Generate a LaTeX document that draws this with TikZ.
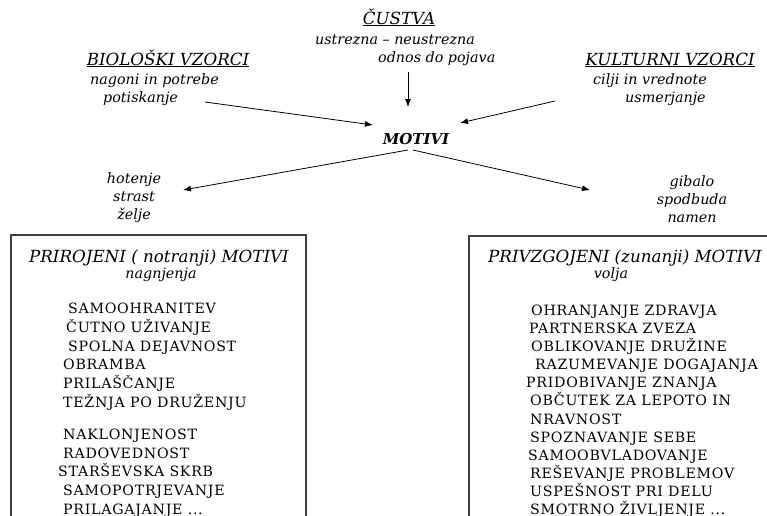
\documentclass[tikz,border=0pt]{standalone}
\usepackage{fontspec}
\setmainfont{DejaVu Serif}
\usetikzlibrary{arrows.meta}

\begin{document}
\begin{tikzpicture}[x=1pt,y=-1pt,
  head/.style={font=\fontsize{16.7}{18}\selectfont\itshape, inner sep=0pt, anchor=base},
  sub/.style={font=\fontsize{14.3}{18}\selectfont\itshape, inner sep=0pt},
  item/.style={font=\fontsize{14.2}{18.8}\selectfont\addfontfeature{LetterSpace=5}, inner sep=0pt, anchor=base west},
  arr/.style={-{Latex[length=8pt,width=6pt]}, line width=0.8pt},
  panel/.style={draw=black!75, line width=1.3pt}]

\useasboundingbox (0,0) rectangle (767,515);

% sources feeding the motives
\node[head] (cust) at (399,24) {\underline{ČUSTVA}};
\node[sub, anchor=base] (ustr) at (395,44) {ustrezna – neustrezna};
\node[sub, anchor=base west] (odnos) at (378,62) {odnos do pojava};

\node[head] (bio) at (168,65) {\underline{BIOLOŠKI VZORCI}};
\node[sub, anchor=base west] (nagoni) at (90,84) {nagoni in potrebe};
\node[sub, anchor=base west] (potisk) at (103,102) {potiskanje};

\node[head] (kult) at (670,65) {\underline{KULTURNI VZORCI}};
\node[sub, anchor=base west] (cilji) at (593,84) {cilji in vrednote};
\node[sub, anchor=base west] (usmer) at (625,102) {usmerjanje};

\node[head, font=\fontsize{15}{18}\selectfont\bfseries\itshape] (motivi) at (416,144) {MOTIVI};

% qualities of the two kinds of motives
\node[sub, align=center, anchor=north] (hot) at (134,172) {hotenje\\strast\\želje};
\node[sub, align=center, anchor=north] (gib) at (692,175) {gibalo\\spodbuda\\namen};

% arrow end points
\coordinate (bioT) at (205,102);
\coordinate (bioH) at (373,125);
\coordinate (custT) at (408,72);
\coordinate (custH) at (408,107);
\coordinate (kultT) at (555,101);
\coordinate (kultH) at (460,123);
\coordinate (motL) at (408,150);
\coordinate (motR) at (413,150);
\coordinate (hotH) at (183,190);
\coordinate (gibH) at (590,190);

\draw[arr] (bioT) -- (bioH);
\draw[arr] (custT) -- (custH);
\draw[arr] (kultT) -- (kultH);
\draw[arr] (motL) -- (hotH);
\draw[arr] (motR) -- (gibH);

% the two panels, running off the page
\draw[panel] (11,235) rectangle (306,540);
\draw[panel] (469,236) rectangle (800,540);

\node[head] (prir) at (159,262) {PRIROJENI ( notranji) MOTIVI};
\node[sub, anchor=base] (nagn) at (161,278) {nagnjenja};
% a multi-line node sits on its last baseline
\node[item, align=left] (leftlist) at (63,514.5) {%
  \hspace{5pt}SAMOOHRANITEV\\
  \hspace{3pt}ČUTNO UŽIVANJE\\
  \hspace{5pt}SPOLNA DEJAVNOST\\
  OBRAMBA\\
  PRILAŠČANJE\\
  TEŽNJA PO DRUŽENJU\\[13pt]
  NAKLONJENOST\\
  RADOVEDNOST\\
  \hspace{-5pt}STARŠEVSKA SKRB\\
  SAMOPOTRJEVANJE\\
  PRILAGAJANJE ...};

\node[head] (privz) at (625,262) {PRIVZGOJENI (zunanji) MOTIVI};
\node[sub, anchor=base] (volja) at (611,278) {volja};
\node[item, align=left, font=\fontsize{14.2}{18.1}\selectfont\addfontfeature{LetterSpace=5}] (rightlist) at (526,514.5) {%
  \hspace{5pt}OHRANJANJE ZDRAVJA\\
  \hspace{3pt}PARTNERSKA ZVEZA\\
  \hspace{5pt}OBLIKOVANJE DRUŽINE\\
  \hspace{9pt}RAZUMEVANJE DOGAJANJA\\
  PRIDOBIVANJE ZNANJA\\
  \hspace{4pt}OBČUTEK ZA LEPOTO IN\\
  \hspace{4pt}NRAVNOST\\
  \hspace{4pt}SPOZNAVANJE SEBE\\
  \hspace{2pt}SAMOOBVLADOVANJE\\
  \hspace{4pt}REŠEVANJE PROBLEMOV\\
  \hspace{4pt}USPEŠNOST PRI DELU\\
  \hspace{4pt}SMOTRNO ŽIVLJENJE ...};
\end{tikzpicture}
\end{document}
